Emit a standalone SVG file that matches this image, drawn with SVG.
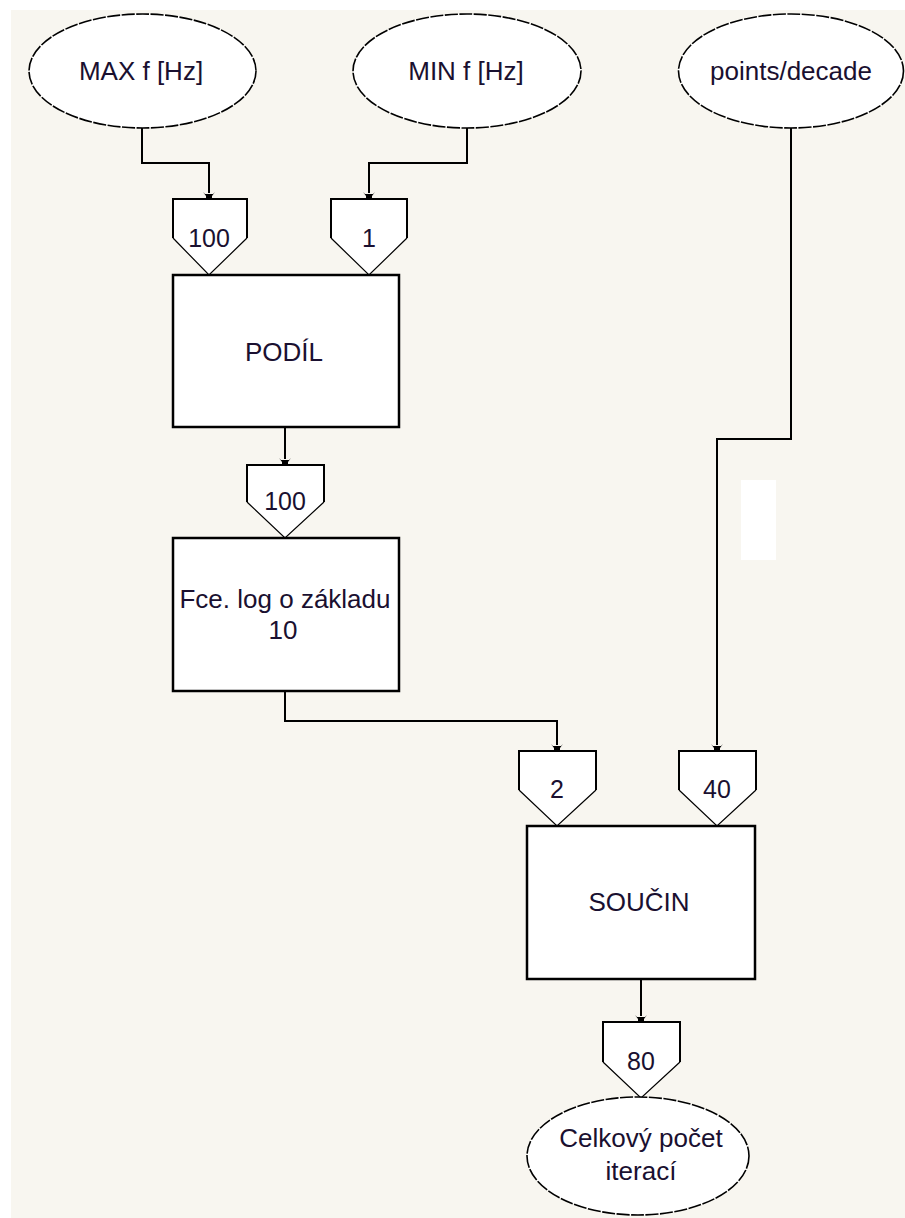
<svg xmlns="http://www.w3.org/2000/svg" width="905" height="1218" viewBox="0 0 905 1218">
<defs>
<style>
.bg{fill:#f8f6f0}
.ell{fill:#ffffff;stroke:#000;stroke-width:1.6;stroke-dasharray:13 1.5}
.box{fill:#ffffff;stroke:#000;stroke-width:2.5}
.pfill{fill:#ffffff;stroke:none}
.pin{fill:none;stroke:#000;stroke-width:2}
.pin2{fill:none;stroke:#000;stroke-width:1.2}
.wire{fill:none;stroke:#000;stroke-width:2}
.ah{fill:#000}
text{font-family:"Liberation Sans",Arial,sans-serif;font-size:26px;fill:#1a1030;text-anchor:middle}
.num{font-size:25px}
</style>
</defs>
<rect x="0" y="0" width="905" height="1218" fill="#ffffff"/>
<rect class="bg" x="11" y="10" width="894" height="1208"/>

<g id="connectors">
<polyline class="wire" points="142,128 142,163 209,163 209,193"/>
<path class="ah" d="M203,192 L205,194 L213,194 L215,192 L212,196 L212,199 L206,199 L206,196 Z"/>
<polyline class="wire" points="467,128 467,163 369,163 369,193"/>
<path class="ah" d="M363,192 L365,194 L373,194 L375,192 L372,196 L372,199 L366,199 L366,196 Z"/>
<polyline class="wire" points="791,128 791,439 717,439 717,745"/>
<path class="ah" d="M711,744 L713,746 L721,746 L723,744 L720,748 L720,751 L714,751 L714,748 Z"/>
<polyline class="wire" points="285,427 285,459"/>
<path class="ah" d="M279,458 L281,460 L289,460 L291,458 L288,462 L288,465 L282,465 L282,462 Z"/>
<polyline class="wire" points="285,691 285,721 557,721 557,745"/>
<path class="ah" d="M551,744 L553,746 L561,746 L563,744 L560,748 L560,751 L554,751 L554,748 Z"/>
<polyline class="wire" points="641,979 641,1016"/>
<path class="ah" d="M635,1015 L637,1017 L645,1017 L647,1015 L644,1019 L644,1022 L638,1022 L638,1019 Z"/>
</g>

<rect x="741" y="480" width="35" height="80" fill="#ffffff"/>

<g id="max">
<ellipse class="ell" cx="142.5" cy="71" rx="113.5" ry="57"/>
<text x="141" y="80">MAX f [Hz]</text>
</g>
<g id="min">
<ellipse class="ell" cx="467" cy="71" rx="114" ry="57"/>
<text x="466" y="80">MIN f [Hz]</text>
</g>
<g id="points">
<ellipse class="ell" cx="791" cy="71" rx="112.5" ry="57"/>
<text x="791" y="80">points/decade</text>
</g>

<g id="pin100a">
<polygon class="pfill" points="173,199 247,199 247,238 209,275 173,238"/>
<path class="pin" d="M173,238 L173,199 L247,199 L247,238"/>
<path class="pin2" d="M173,238 L209,275 L247,238"/>
<text class="num" x="209" y="247">100</text>
</g>
<g id="pin1">
<polygon class="pfill" points="331,199 407,199 407,238 369,275 331,238"/>
<path class="pin" d="M331,238 L331,199 L407,199 L407,238"/>
<path class="pin2" d="M331,238 L369,275 L407,238"/>
<text class="num" x="369" y="247">1</text>
</g>

<g id="podil">
<rect class="box" x="173" y="275" width="226" height="152"/>
<text x="284" y="361">PODÍL</text>
</g>

<g id="pin100b">
<polygon class="pfill" points="247,465 324,465 324,502 285,538 247,502"/>
<path class="pin" d="M247,502 L247,465 L324,465 L324,502"/>
<path class="pin2" d="M247,502 L285,538 L324,502"/>
<text class="num" x="285" y="510">100</text>
</g>

<g id="log">
<rect class="box" x="173" y="538" width="226" height="153"/>
<text x="285" y="608">Fce. log o základu</text>
<text x="283" y="639">10</text>
</g>

<g id="pin2">
<polygon class="pfill" points="519,751 596,751 596,790 557,826 519,790"/>
<path class="pin" d="M519,790 L519,751 L596,751 L596,790"/>
<path class="pin2" d="M519,790 L557,826 L596,790"/>
<text class="num" x="557" y="798">2</text>
</g>
<g id="pin40">
<polygon class="pfill" points="679,751 756,751 756,790 717,826 679,790"/>
<path class="pin" d="M679,790 L679,751 L756,751 L756,790"/>
<path class="pin2" d="M679,790 L717,826 L756,790"/>
<text class="num" x="717" y="798">40</text>
</g>

<g id="soucin">
<rect class="box" x="527" y="826" width="228" height="153"/>
<text x="639" y="911">SOUČIN</text>
</g>

<g id="pin80">
<polygon class="pfill" points="603,1022 680,1022 680,1062 641,1098 603,1062"/>
<path class="pin" d="M603,1062 L603,1022 L680,1022 L680,1062"/>
<path class="pin2" d="M603,1062 L641,1098 L680,1062"/>
<text class="num" x="641" y="1070">80</text>
</g>

<g id="celkovy">
<ellipse class="ell" cx="638" cy="1156" rx="111" ry="59"/>
<text x="641" y="1147">Celkový počet</text>
<text x="641" y="1180">iterací</text>
</g>
</svg>
